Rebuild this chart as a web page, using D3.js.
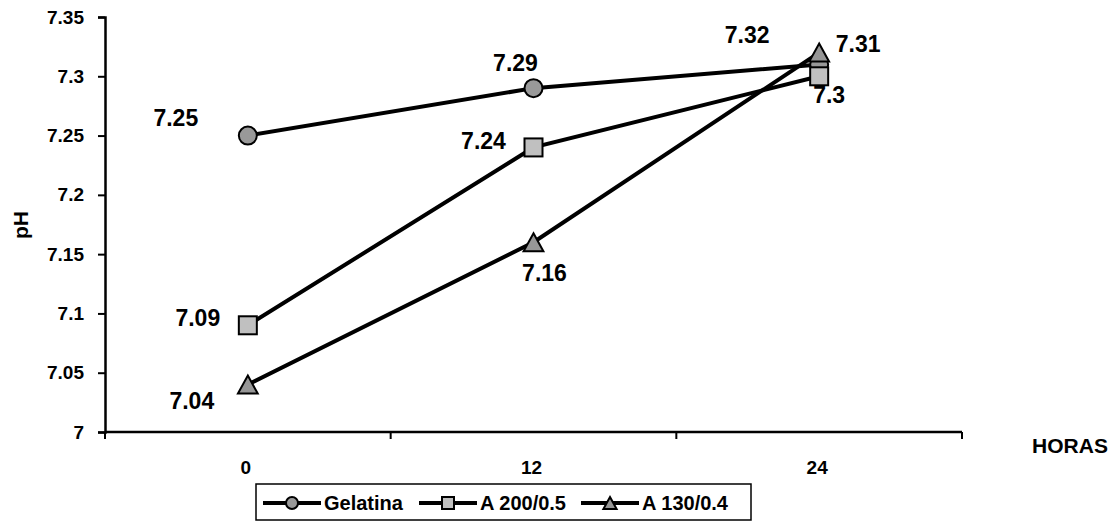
<!DOCTYPE html>
<html>
<head>
<meta charset="utf-8">
<script src="https://cdn.jsdelivr.net/npm/d3@7"></script>
<style>
  html, body { margin: 0; padding: 0; background: #fff; }
  text { font-family: "Liberation Sans", Arial, sans-serif; font-weight: bold; fill: #000; }
</style>
</head>
<body>
<svg id="chart" width="1114" height="522"></svg>
<script>
// ---- data ----
const categories = ["0", "12", "24"];
const seriesNames = ["Gelatina", "A 200/0.5", "A 130/0.4"];
const gelatina = [7.25, 7.29, 7.31];
const a200 = [7.09, 7.24, 7.30];
const a130 = [7.04, 7.16, 7.32];
const yTicks = [7, 7.05, 7.1, 7.15, 7.2, 7.25, 7.3, 7.35];
const yLabels = ["7", "7.05", "7.1", "7.15", "7.2", "7.25", "7.3", "7.35"];
const xTitle = "HORAS";
const yTitle = "pH";

// label placement offsets (label centre relative to the point, px), per series
const labelOffsets = [
  [[-72, -18], [-18, -25], [39, -21]],
  [[-50, -8], [-50, -7], [10, 18]],
  [[-56, 16], [11, 30], [-72, -18]]
];

const seriesValues = [gelatina, a200, a130];
const markerTypes = ["circle", "square", "triangle"];
const markerFills = ["#999999", "#c0c0c0", "#969696"];

const svg = d3.select("#chart");
const mLeft = 105, mRight = 962, mTop = 17, mBottom = 432;

const x = d3.scaleBand().domain(categories).range([mLeft, mRight]).padding(0);
const y = d3.scaleLinear().domain([7, 7.35]).range([mBottom, mTop]);
const cx = c => x(c) + x.bandwidth() / 2;

// y axis
const yAxis = d3.axisLeft(y).tickValues(yTicks).tickSize(7).tickPadding(14)
  .tickFormat((d, i) => yLabels[i]);
const gy = svg.append("g").attr("transform", `translate(${mLeft},0)`).call(yAxis);
gy.select(".domain").attr("stroke", "#000").attr("stroke-width", 2.5);
gy.selectAll(".tick line").attr("stroke", "#000").attr("stroke-width", 2);
gy.selectAll(".tick text").style("font-size", "19px").style("font-family", "Liberation Sans, Arial, sans-serif").style("font-weight", "bold");

// x axis: ticks at category boundaries
const gx = svg.append("g").attr("transform", `translate(0,${mBottom})`);
gx.append("line").attr("x1", mLeft).attr("x2", mRight).attr("y1", 0).attr("y2", 0)
  .attr("stroke", "#000").attr("stroke-width", 2.5);
const boundaries = categories.map(c => x(c)).concat([x(categories[categories.length - 1]) + x.bandwidth()]);
gx.selectAll("line.tk").data(boundaries).enter().append("line").attr("class", "tk")
  .attr("x1", d => d).attr("x2", d => d).attr("y1", 0).attr("y2", 7)
  .attr("stroke", "#000").attr("stroke-width", 2);
gx.selectAll("text.cat").data(categories).enter().append("text").attr("class", "cat")
  .attr("x", d => cx(d) - 2).attr("y", 42).attr("text-anchor", "middle")
  .style("font-size", "19px").text(d => d);

// axis titles
svg.append("text").attr("x", 1070).attr("y", 453).attr("text-anchor", "middle")
  .style("font-size", "21px").text(xTitle);
svg.append("text").attr("transform", "translate(28,225) rotate(-90)").attr("text-anchor", "middle")
  .style("font-size", "21px").text(yTitle);

// marker drawing
function drawMarker(g, type, fill, px, py, s) {
  if (type === "circle") {
    g.append("circle").attr("cx", px).attr("cy", py).attr("r", s)
      .attr("fill", fill).attr("stroke", "#000").attr("stroke-width", 2);
  } else if (type === "square") {
    g.append("rect").attr("x", px - s).attr("y", py - s).attr("width", 2 * s).attr("height", 2 * s)
      .attr("fill", fill).attr("stroke", "#000").attr("stroke-width", 2);
  } else {
    g.append("path").attr("d", `M${px},${py - s} L${px + s * 1.1},${py + s} L${px - s * 1.1},${py + s} Z`)
      .attr("fill", fill).attr("stroke", "#000").attr("stroke-width", 2).attr("stroke-linejoin", "miter");
  }
}

const line = d3.line().x((d, i) => cx(categories[i])).y(d => y(d));
const plot = svg.append("g");
seriesValues.forEach((vals, si) => {
  const g = plot.append("g");
  g.append("path").attr("d", line(vals)).attr("fill", "none").attr("stroke", "#000").attr("stroke-width", 4);
  vals.forEach((v, i) => drawMarker(g, markerTypes[si], markerFills[si], cx(categories[i]), y(v), 9));
});

// data labels
const labels = svg.append("g");
seriesValues.forEach((vals, si) => {
  vals.forEach((v, i) => {
    const off = labelOffsets[si][i];
    labels.append("text").attr("x", cx(categories[i]) + off[0]).attr("y", y(v) + off[1])
      .attr("dy", "0.36em").attr("text-anchor", "middle").style("font-size", "23px").text(String(v));
  });
});

// legend
const lg = svg.append("g");
lg.append("rect").attr("x", 256).attr("y", 484).attr("width", 495).attr("height", 36)
  .attr("fill", "#fff").attr("stroke", "#000").attr("stroke-width", 1.5);
const legendX = [263, 419, 581];
seriesNames.forEach((name, si) => {
  const x0 = legendX[si];
  const g = lg.append("g");
  g.append("line").attr("x1", x0).attr("x2", x0 + 58).attr("y1", 503).attr("y2", 503)
    .attr("stroke", "#000").attr("stroke-width", 4);
  drawMarker(g, markerTypes[si], markerFills[si], x0 + 29, 503, 6);
  g.append("text").attr("x", x0 + 61).attr("y", 510).style("font-size", "20px").text(name);
});
</script>
</body>
</html>
